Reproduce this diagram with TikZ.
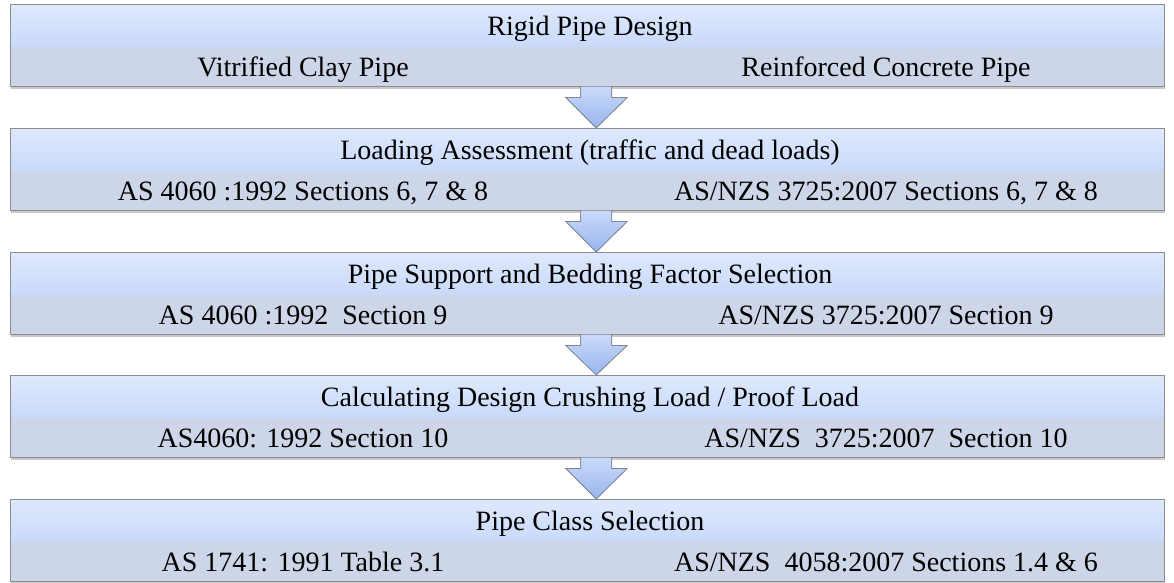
\documentclass[tikz,border=0pt]{standalone}
\usepackage{fontspec}
\setmainfont{Liberation Serif}
\usetikzlibrary{shadows,calc}
\definecolor{topA}{HTML}{DFE9FC}
\definecolor{topB}{HTML}{C8D9F9}
\definecolor{subC}{HTML}{CDD6E8}
\definecolor{edgeC}{HTML}{8C8C8C}
\definecolor{arrA}{HTML}{CADBFA}
\definecolor{arrB}{HTML}{98B4EE}
\definecolor{arrE}{HTML}{7E8795}
\begin{document}
\begin{tikzpicture}[x=1pt,y=-1pt,
  outer/.style={anchor=north west, minimum width=1154pt, minimum height=82pt, inner sep=0pt, fill=subC,
    drop shadow={shadow xshift=1pt, shadow yshift=-2.5pt, opacity=0.35, fill=black!60}},
  titlepart/.style={anchor=north west, minimum width=1154pt, minimum height=43pt, inner sep=0pt, top color=topA, bottom color=topB},
  subpart/.style={anchor=north west, minimum width=1154pt, minimum height=39pt, inner sep=0pt, fill=subC},
  frame/.style={draw=edgeC, line width=0.9pt},
  txt/.style={font=\fontsize{28}{30}\selectfont, text=black, inner sep=0pt, anchor=base},
  arrowfill/.style={top color=arrA, bottom color=arrB},
  arrowedge/.style={draw=arrE, line width=0.8pt, line join=miter}]
\useasboundingbox (0,0) rectangle (1174,582);
% boxes
\foreach \i/\t in {1/4,2/128,3/252,4/375,5/499}{
  \node[outer] (b\i) at (10,\t) {};
  \node[titlepart] (h\i) at (b\i.north west) {};
  \node[subpart] (s\i) at ($(b\i.north west)+(0,43)$) {};
  \draw[frame] (b\i.north west) rectangle (b\i.south east);
}
% texts
\node[txt] (t1) at (590,35) {Rigid Pipe Design};
\node[txt] (l1) at (303,76) {Vitrified Clay Pipe};
\node[txt] (r1) at (886,76) {Reinforced Concrete Pipe};
\node[txt] (t2) at (590,159) {Loading Assessment (traffic and dead loads)};
\node[txt] (l2) at (303,200) {AS 4060 :1992 Sections 6, 7 \& 8};
\node[txt] (r2) at (886,200) {AS/NZS 3725:2007 Sections 6, 7 \& 8};
\node[txt] (t3) at (590,283) {Pipe Support and Bedding Factor Selection};
\node[txt] (l3) at (303,324) {AS 4060 :1992\ \ Section 9};
\node[txt] (r3) at (886,324) {AS/NZS 3725:2007 Section 9};
\node[txt] (t4) at (590,406) {Calculating Design Crushing Load / Proof Load};
\node[txt] (l4) at (303,447) {AS4060: 1992 Section 10};
\node[txt] (r4) at (886,447) {AS/NZS\ \ 3725:2007\ \ Section 10};
\node[txt] (t5) at (590,530) {Pipe Class Selection};
\node[txt] (l5) at (303,571) {AS 1741: 1991 Table 3.1};
\node[txt] (r5) at (886,571) {AS/NZS\ \ 4058:2007 Sections 1.4 \& 6};
% arrows
\foreach \i/\j in {1/2,2/3,3/4,4/5}{
  \coordinate (a\i) at ($(b\i.south)+(9,0)$);
  \coordinate (z\i) at ($(b\j.north)+(9,0)$);
  \fill[arrowfill] ($(a\i)+(-15.5,0)$) -- ++(0,11) -- ++(-15,0) -- (z\i) -- ($(a\i)+(31,11)$) -- ++(-15.5,0) -- ++(0,-11) -- cycle;
  \draw[arrowedge] ($(a\i)+(-15.5,0)$) -- ++(0,11) -- ++(-15,0) -- (z\i) -- ($(a\i)+(31,11)$) -- ++(-15.5,0) -- ++(0,-11);
}
\end{tikzpicture}
\end{document}
